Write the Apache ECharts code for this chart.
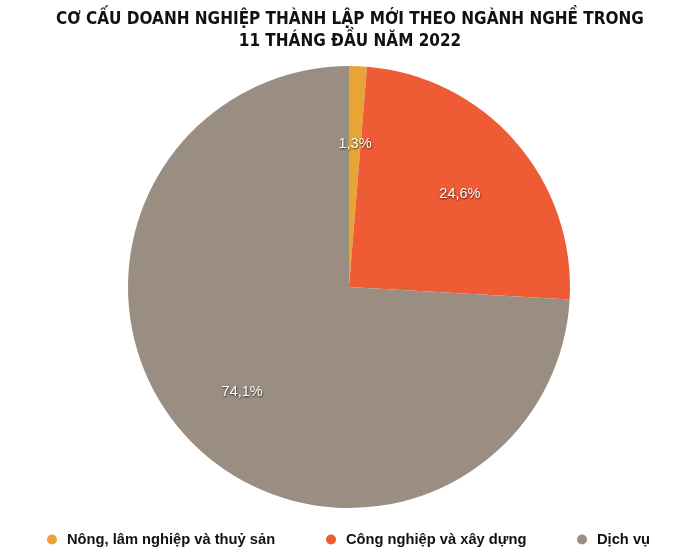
<!DOCTYPE html>
<html><head><meta charset="utf-8">
<script src="https://cdn.jsdelivr.net/npm/echarts@6/dist/echarts.min.js"></script>
<style>html,body{margin:0;padding:0;background:#fff}#c{width:700px;height:559px}</style>
</head><body><div id="c"></div>
<script>
const titleText = 'CƠ CẤU DOANH NGHIỆP THÀNH LẬP MỚI THEO NGÀNH NGHỀ TRONG\n11 THÁNG ĐẦU NĂM 2022';
const categories = ['Nông, lâm nghiệp và thuỷ sản', 'Công nghiệp và xây dựng', 'Dịch vụ'];
const values = [1.3, 24.6, 74.1];
const colors = ['#E8A435', '#EE5B34', '#9A8E82'];

const data = categories.map((n, i) => ({ name: n, value: values[i], itemStyle: { color: colors[i] } }));
const legendLefts = [42, 321, 572];
const chart = echarts.init(document.getElementById('c'));
chart.setOption({
  animation: false,
  title: {
    text: titleText, left: 'center', top: 4,
    textStyle: { fontFamily: 'DejaVu Sans Condensed', fontWeight: 'bold', fontSize: 17, lineHeight: 22, color: '#111' }
  },
  legend: categories.map((n, i) => ({
    data: [n], left: legendLefts[i], top: 527, icon: 'circle', itemWidth: 20, itemHeight: 10,
    textStyle: { fontFamily: 'Liberation Sans', fontWeight: 'bold', fontSize: 14.7, color: '#111' }
  })),
  series: [{
    type: 'pie', center: [349, 287], radius: [0, 221], startAngle: 90, clockwise: true,
    data: data, label: { show: false }, labelLine: { show: false }, emphasis: { disabled: true }
  }, {
    type: 'pie', center: [349, 287], radius: [67, 221], startAngle: 90, clockwise: true, silent: true,
    data: categories.map((n, i) => ({ name: n, value: values[i], itemStyle: { color: 'rgba(0,0,0,0)' } })),
    legendHoverLink: false,
    label: {
      show: true, position: 'inside', offset: [0, 4],
      formatter: p => String(p.value).replace('.', ',') + '%',
      fontFamily: 'Liberation Sans', fontSize: 14.5, color: '#fff',
      textShadowColor: 'rgba(0,0,0,0.75)', textShadowBlur: 2, textShadowOffsetX: 0.5, textShadowOffsetY: 1
    },
    labelLine: { show: false }, emphasis: { disabled: true }
  }]
});
</script></body></html>
